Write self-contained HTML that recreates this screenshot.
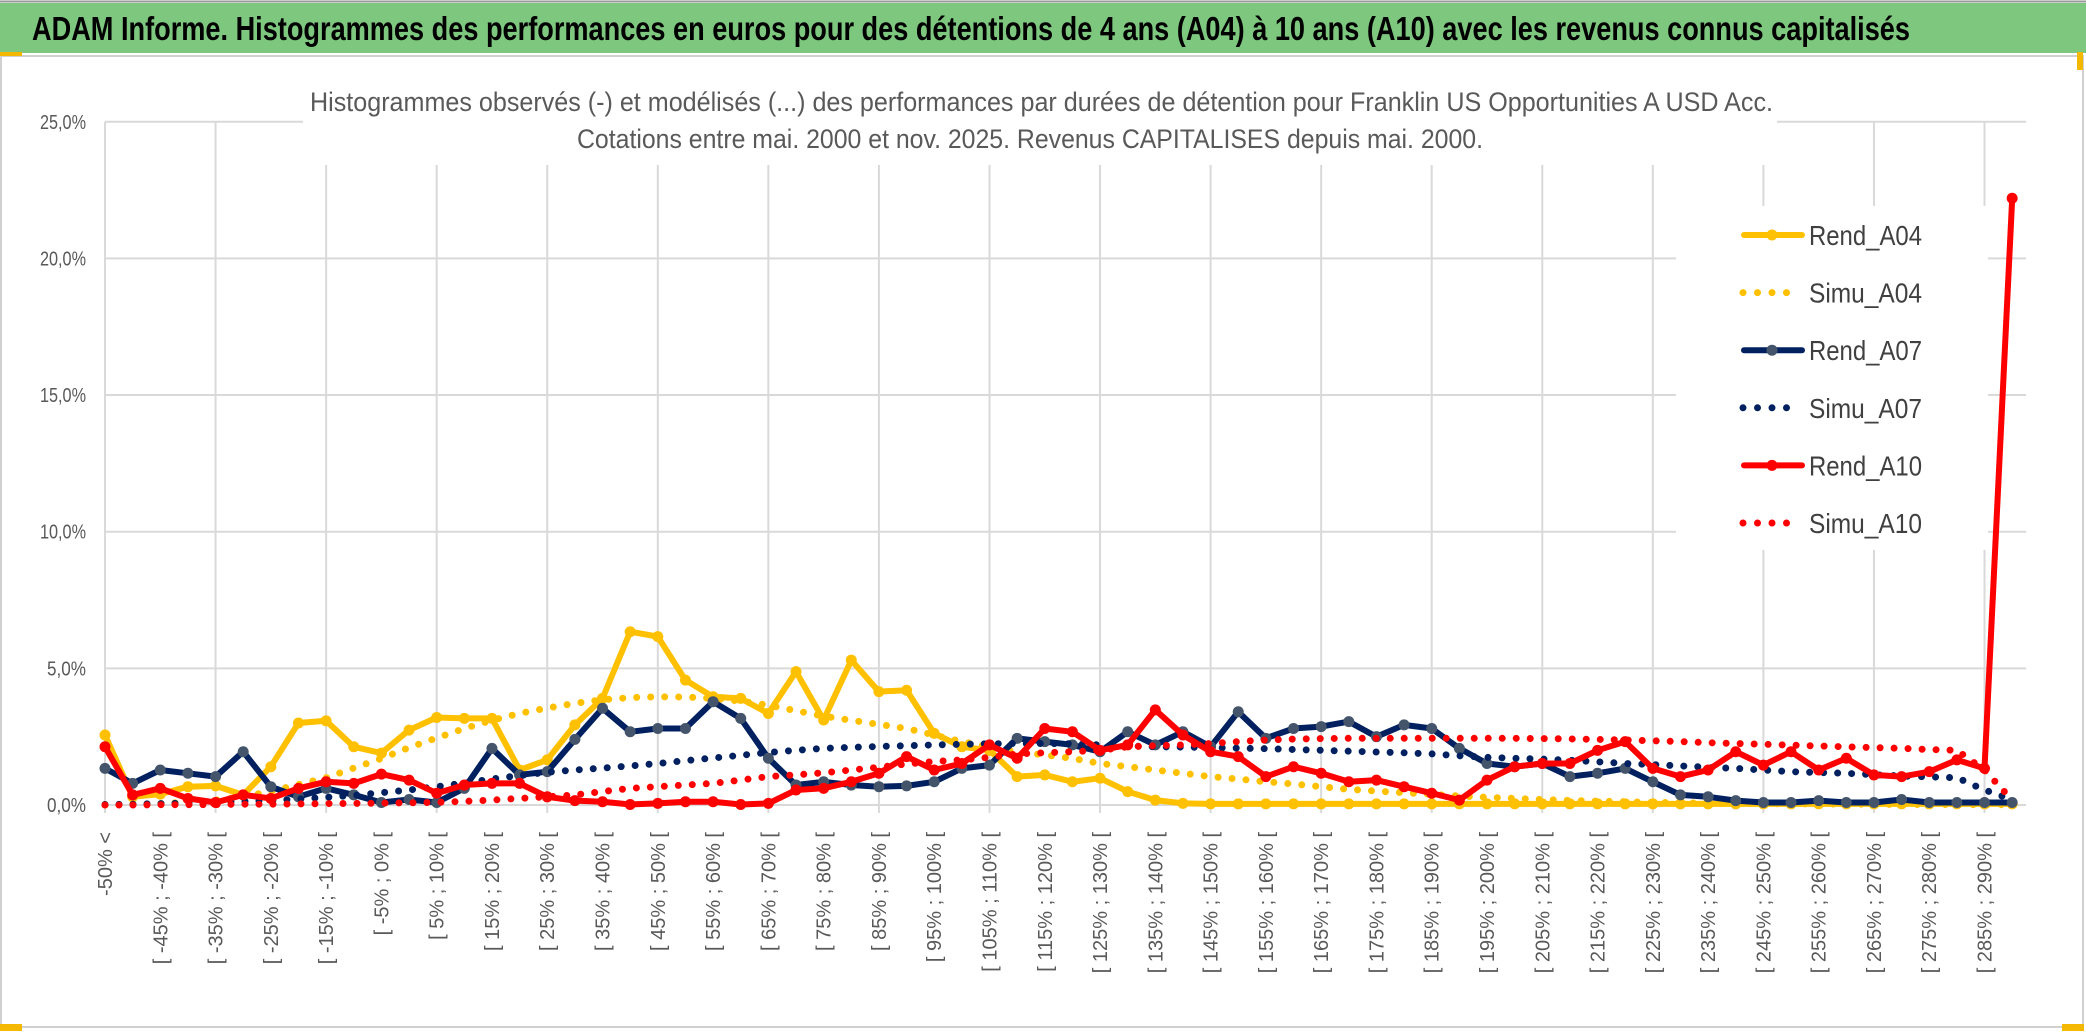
<!DOCTYPE html>
<html><head><meta charset="utf-8"><style>
html,body{margin:0;padding:0;background:#fff;}
svg{display:block;font-family:"Liberation Sans",sans-serif;}
</style></head><body>
<svg id="chart" width="2086" height="1033" viewBox="0 0 2086 1033" xmlns="http://www.w3.org/2000/svg">
<rect x="0" y="0" width="2086" height="1033" fill="#fff"/>
<rect x="1" y="56" width="2082" height="971" fill="none" stroke="#d0d0d0" stroke-width="2"/>
<rect x="0" y="3" width="2086" height="50" fill="#7dc77f"/>
<line x1="0" y1="1.5" x2="2086" y2="1.5" stroke="#999" stroke-width="2"/>
<text x="32" y="40" font-size="33" font-weight="bold" fill="#000" textLength="1878" lengthAdjust="spacingAndGlyphs">ADAM Informe. Histogrammes des performances en euros pour des détentions de 4 ans (A04) à 10 ans (A10) avec les revenus connus capitalisés</text>
<rect x="0" y="52" width="22" height="4" fill="#f5b800"/>
<rect x="2077" y="52" width="6" height="18" fill="#f5b800"/>
<rect x="0" y="1024" width="22" height="7" fill="#f5b800"/>
<rect x="2062" y="1024" width="22" height="7" fill="#f5b800"/>
<g id="grid"></g>
<rect x="303" y="84" width="1474" height="81" fill="#fff"/>
<text x="310" y="111" font-size="27" fill="#595959" textLength="1463" lengthAdjust="spacingAndGlyphs">Histogrammes observés (-) et modélisés (...) des performances par durées de détention pour Franklin US Opportunities A USD Acc.</text>
<text x="577" y="148" font-size="27" fill="#595959" textLength="906" lengthAdjust="spacingAndGlyphs">Cotations entre mai. 2000 et nov. 2025. Revenus CAPITALISES depuis mai. 2000.</text>
<g id="axes"></g>
<g id="series"></g>
<g id="legend"></g>
</svg>
<script>
const categories = ["-50% <"];
for (let a = -50; a < 290; a += 5) categories.push("[ " + a + "% ; " + (a + 5) + "% [");
categories.push("> 290%");
const yTicks = [0, 5, 10, 15, 20, 25];
const yTickLabels = ["0,0%", "5,0%", "10,0%", "15,0%", "20,0%", "25,0%"];
const rendA04 = [2.56,0.3,0.4,0.67,0.7,0.37,1.4,3.0,3.08,2.13,1.9,2.74,3.2,3.17,3.17,1.28,1.65,2.93,3.9,6.34,6.16,4.57,3.96,3.9,3.35,4.88,3.11,5.3,4.15,4.2,2.62,2.13,2.0,1.04,1.1,0.85,0.98,0.49,0.18,0.06,0.04,0.04,0.04,0.04,0.04,0.04,0.04,0.04,0.04,0.04,0.04,0.04,0.04,0.04,0.04,0.04,0.04,0.04,0.04,0.04,0.04,0.04,0.04,0.04,0.04,0.04,0.04,0.04,0.04,0.04];
const simuA04 = [0,0.02,0.05,0.1,0.18,0.3,0.5,0.75,1.0,1.35,1.7,2.1,2.45,2.8,3.1,3.35,3.55,3.72,3.85,3.93,3.96,3.95,3.9,3.8,3.65,3.45,3.25,3.1,2.95,2.8,2.56,2.32,2.13,1.95,1.83,1.71,1.52,1.4,1.28,1.16,1.04,0.95,0.85,0.77,0.67,0.57,0.51,0.45,0.39,0.33,0.28,0.24,0.2,0.17,0.14,0.12,0.1,0.08,0.07,0.06,0.05,0.04,0.04,0.03,0.03,0.02,0.02,0.02,0.01,0.01];
const rendA07 = [1.34,0.79,1.28,1.16,1.04,1.95,0.67,0.3,0.61,0.37,0.09,0.2,0.09,0.61,2.07,1.1,1.22,2.4,3.54,2.68,2.8,2.8,3.78,3.17,1.71,0.73,0.85,0.73,0.67,0.7,0.85,1.34,1.46,2.44,2.32,2.2,1.95,2.68,2.2,2.68,2.13,3.41,2.44,2.8,2.87,3.05,2.5,2.93,2.8,2.07,1.52,1.4,1.52,1.04,1.16,1.34,0.85,0.37,0.3,0.16,0.09,0.09,0.16,0.09,0.09,0.2,0.09,0.09,0.09,0.09];
const simuA07 = [0.02,0.03,0.05,0.07,0.1,0.13,0.17,0.22,0.28,0.35,0.45,0.55,0.67,0.8,0.95,1.08,1.2,1.28,1.35,1.43,1.52,1.62,1.72,1.82,1.92,2.0,2.07,2.11,2.14,2.17,2.2,2.22,2.24,2.25,2.25,2.24,2.2,2.16,2.13,2.12,2.1,2.08,2.06,2.03,2.0,1.97,1.94,1.91,1.87,1.8,1.74,1.71,1.68,1.64,1.58,1.52,1.48,1.43,1.38,1.34,1.28,1.22,1.19,1.16,1.11,1.06,1.03,1.0,0.55,0.2];
const rendA10 = [2.13,0.37,0.61,0.24,0.09,0.37,0.24,0.61,0.85,0.79,1.13,0.91,0.43,0.73,0.79,0.79,0.3,0.16,0.12,0.02,0.06,0.12,0.12,0.02,0.06,0.55,0.61,0.85,1.16,1.77,1.28,1.52,2.2,1.71,2.8,2.68,2.0,2.2,3.48,2.56,1.95,1.77,1.04,1.4,1.16,0.85,0.91,0.67,0.43,0.18,0.91,1.4,1.52,1.52,2.0,2.32,1.34,1.04,1.28,1.95,1.46,1.95,1.28,1.71,1.1,1.04,1.22,1.65,1.34,22.2];
const simuA10 = [0,0,0.01,0.01,0.02,0.03,0.03,0.04,0.05,0.06,0.07,0.08,0.1,0.13,0.18,0.24,0.3,0.37,0.49,0.61,0.67,0.73,0.79,0.91,1.04,1.1,1.18,1.28,1.38,1.5,1.59,1.65,1.74,1.87,1.91,1.95,2.0,2.13,2.17,2.2,2.25,2.32,2.38,2.41,2.43,2.44,2.44,2.44,2.44,2.44,2.44,2.44,2.43,2.42,2.4,2.38,2.35,2.32,2.28,2.25,2.22,2.19,2.16,2.13,2.1,2.07,2.03,2.0,1.28,0.18];
const seriesNames = ["Rend_A04","Simu_A04","Rend_A07","Simu_A07","Rend_A10","Simu_A10"];

const NS = "http://www.w3.org/2000/svg";
const X0 = 105, XSTEP = 27.64, Y0 = 805, YPER = 27.33;
function xPos(i){ return X0 + i * XSTEP; }
function yPos(v){ return Y0 - v * YPER; }
function mk(tag, attrs, parent){ const e = document.createElementNS(NS, tag); for (const k in attrs) e.setAttribute(k, attrs[k]); parent.appendChild(e); return e; }

const grid = document.getElementById("grid");
const axes = document.getElementById("axes");
const xEnd = xPos(categories.length - 1) + 14;
yTicks.forEach((t, k) => {
  const l = mk("line", {x1: X0, x2: xEnd, y1: yPos(t), y2: yPos(t), stroke: "#d9d9d9", "stroke-width": 2}, grid);
  
  
  const tx = mk("text", {x: 86, y: yPos(t) + 7, "font-size": 20, fill: "#595959", "text-anchor": "end", textLength: 46, lengthAdjust: "spacingAndGlyphs"}, axes);
  
  
  if (t < 10) tx.setAttribute('textLength', 39);
  tx.textContent = yTickLabels[k];
});
for (let i = 0; i < categories.length; i += 4) {
  const l = mk("line", {x1: xPos(i), x2: xPos(i), y1: yPos(25), y2: Y0 + 8, stroke: "#d9d9d9", "stroke-width": 2}, grid);
  
  
}
categories.forEach((c, i) => {
  if (i % 2 !== 0) return;
  const tx = mk("text", {x: 0, y: 0, "font-size": 20, fill: "#595959", "text-anchor": "end", transform: "translate(" + (xPos(i) + 7) + ",832) rotate(-90)"}, axes);
  
  
  tx.textContent = c;
});

const seriesG = document.getElementById("series");
function pts(arr){ return arr.map((v, i) => xPos(i).toFixed(1) + "," + yPos(v).toFixed(1)).join(" "); }
function drawSim(arr, color, name){
  const p = mk("polyline", {points: pts(arr), fill: "none", stroke: color, "stroke-width": 7, "stroke-linecap": "round", "stroke-dasharray": "0 14"}, seriesG);
  
  
}
function drawRend(arr, color, mcolor, name){
  const p = mk("polyline", {points: pts(arr), fill: "none", stroke: color, "stroke-width": 6, "stroke-linejoin": "round"}, seriesG);
  
  
  arr.forEach((v, i) => {
    const c = mk("circle", {cx: xPos(i), cy: yPos(v), r: 5.5, fill: mcolor}, seriesG);
    
    
  });
}
drawRend(rendA04, "#ffc000", "#ffc000", "rend-a04-line");
drawSim(simuA04, "#ffc000", "simu-a04-line");
drawRend(rendA07, "#002060", "#44546a", "rend-a07-line");
drawSim(simuA07, "#002060", "simu-a07-line");
drawRend(rendA10, "#ff0000", "#ff0000", "rend-a10-line");
drawSim(simuA10, "#ff0000", "simu-a10-line");

const legend = document.getElementById("legend");
const lb = mk("rect", {x: 1676, y: 206, width: 312, height: 344, fill: "#fff"}, legend);


const legColors = ["#ffc000","#ffc000","#002060","#002060","#ff0000","#ff0000"];
const legMarker = ["#ffc000","#ffc000","#44546a","#44546a","#ff0000","#ff0000"];
seriesNames.forEach((n, k) => {
  const cy = 235 + k * 57.6;
  const g = mk("g", {}, legend);
  
  
  if (k % 2 === 0) {
    mk("line", {x1: 1744, x2: 1802, y1: cy, y2: cy, stroke: legColors[k], "stroke-width": 6, "stroke-linecap": "round"}, g);
    mk("circle", {cx: 1772, cy: cy, r: 5.5, fill: legMarker[k]}, g);
  } else {
    mk("line", {x1: 1743, x2: 1800, y1: cy, y2: cy, stroke: legColors[k], "stroke-width": 7, "stroke-linecap": "round", "stroke-dasharray": "0 14.5"}, g);
  }
  const t = mk("text", {x: 1809, y: cy + 10, "font-size": 28, fill: "#404040", textLength: 113, lengthAdjust: "spacingAndGlyphs"}, g);
  t.textContent = n;
});
</script>
</body></html>
